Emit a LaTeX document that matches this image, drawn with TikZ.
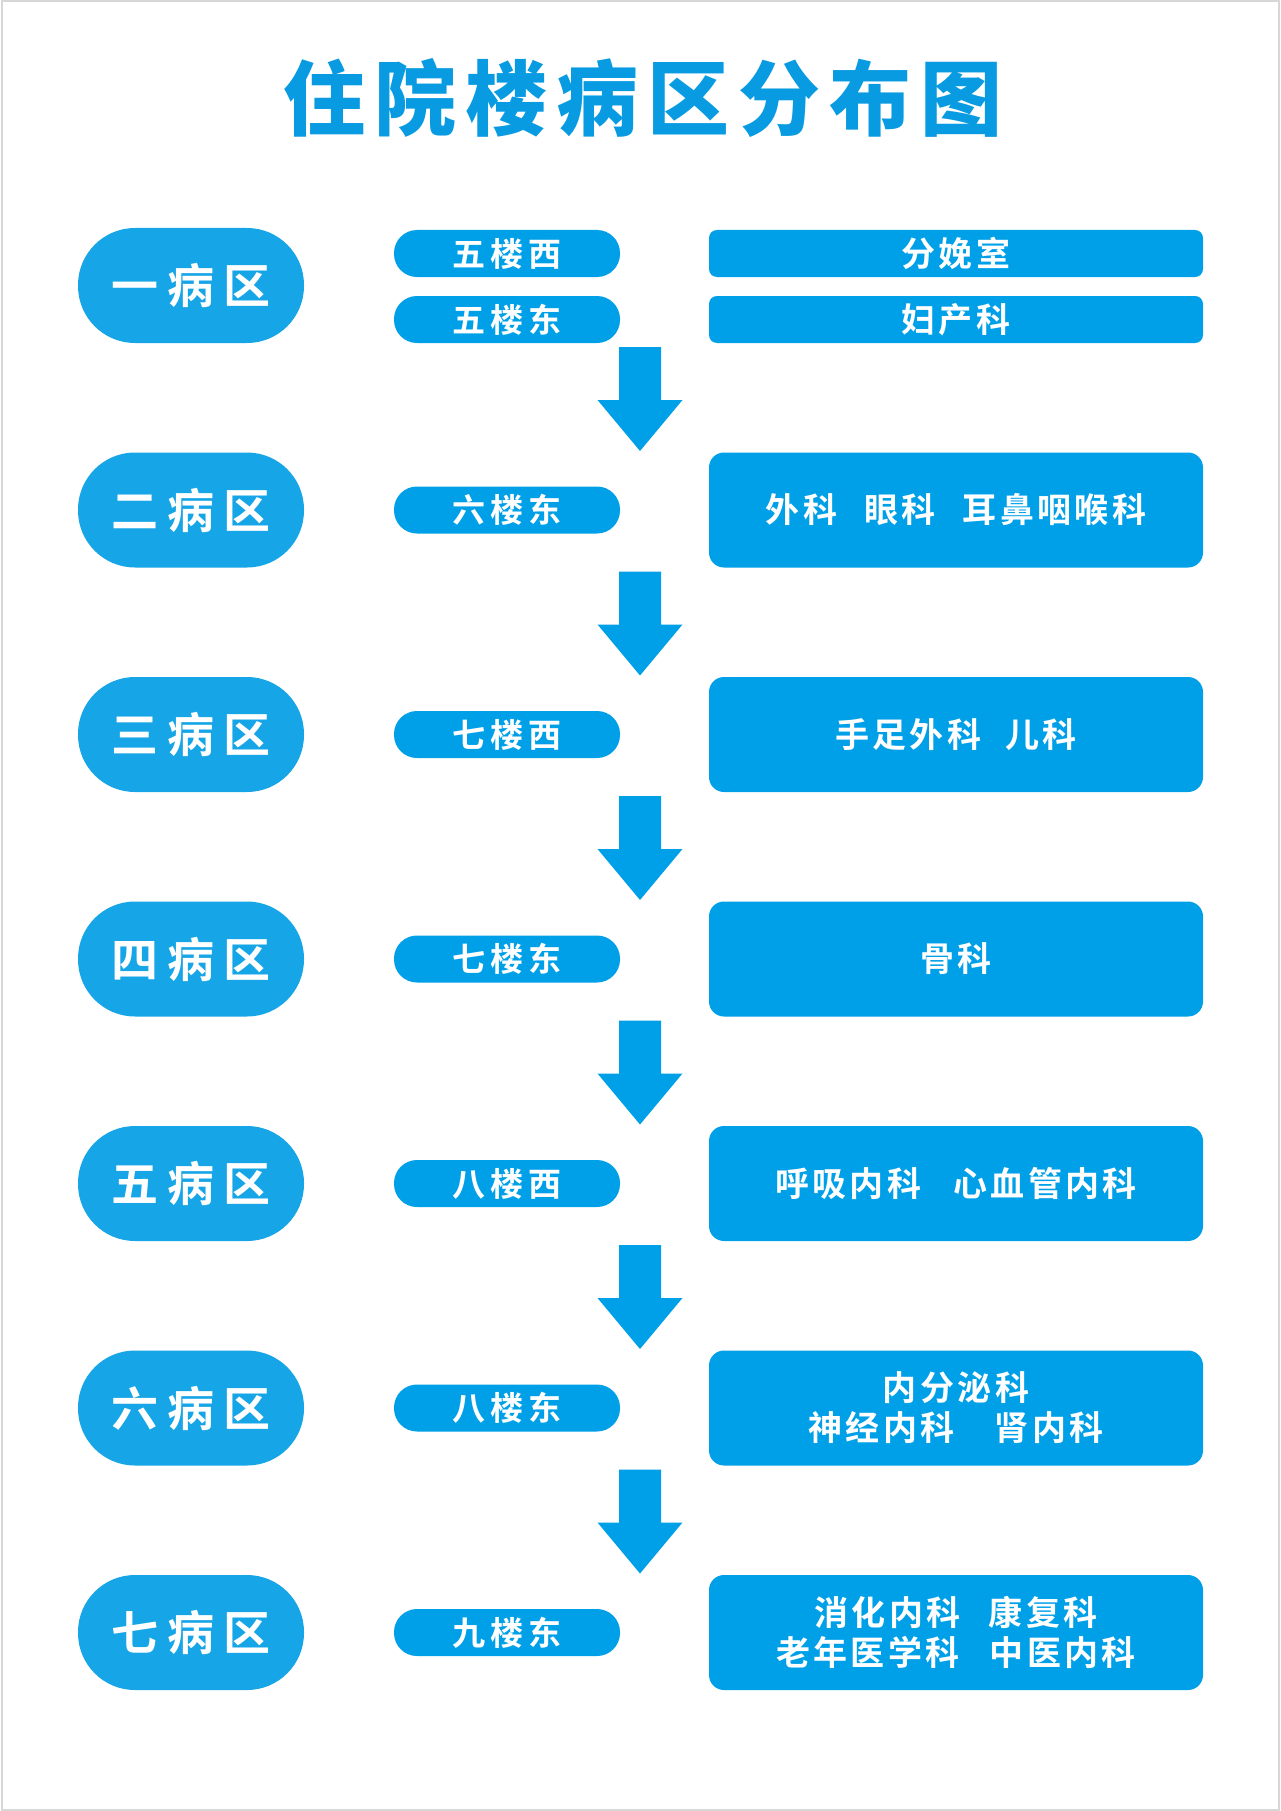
\documentclass[tikz,border=0pt]{standalone}
\usepackage{fontspec}
\usepackage{tikz}
\newfontfamily\cjk{Noto Sans CJK SC Bold}
\newfontfamily\cjkblack{Noto Sans CJK SC Black}
\definecolor{wardblue}{RGB}{22,165,230}
\definecolor{boxblue}{RGB}{0,160,233}
\definecolor{titleblue}{RGB}{8,155,225}
\definecolor{framegray}{RGB}{215,215,215}
\newcommand*{\gap}[1]{\hspace{#1pt}}

\begin{document}
\begin{tikzpicture}[x=1pt, y=-1pt,
  ward/.style={%
    fill=wardblue,
    rectangle,
    rounded corners=57pt,
    minimum width=226pt,
    minimum height=115pt,
    inner sep=0pt,
    text=white,
    font=\cjk\fontsize{47}{50}\selectfont\addfontfeature{LetterSpace=19}
  },
  floor/.style={%
    fill=boxblue,
    rectangle,
    rounded corners=23pt,
    minimum width=226pt,
    minimum height=47pt,
    inner sep=0pt,
    text=white,
    font=\cjk\fontsize{33}{36}\selectfont\addfontfeature{LetterSpace=14}
  },
  dept/.style={%
    fill=boxblue,
    rectangle,
    rounded corners=15pt,
    minimum width=494pt,
    minimum height=115pt,
    inner sep=0pt,
    text=white,
    align=center,
    font=\cjk\fontsize{34}{40}\selectfont\addfontfeature{LetterSpace=10}
  },
  deptthin/.style={dept, rounded corners=8pt, minimum height=47pt},
  wardarrow/.pic={\fill[boxblue] (-21,0) -- (21,0) -- (21,53) -- (42.5,53)
    -- (0,104) -- (-42.5,53) -- (-21,53) -- cycle;}
]

\useasboundingbox (0,0) rectangle (1280,1811);
\fill[white] (0,0) rectangle (1280,1811);
\draw[framegray, line width=2pt] (1.5,1.5) rectangle (1278.5,1809.5);

\node[text=titleblue, font=\cjkblack\fontsize{82}{86}\selectfont\addfontfeature{LetterSpace=11}]
  (title) at (643,98) {住院楼病区分布图};

% ward 1
\node[ward] (ward1) at (191,285.5) {一病区};
\node[floor] (floor1w) at (507,253.5) {五楼西};
\node[floor] (floor1e) at (507,319.5) {五楼东};
\node[deptthin] (dept1w) at (956,253.5) {分娩室};
\node[deptthin] (dept1e) at (956,319.5) {妇产科};
\pic at (640,347) {wardarrow};

% ward 2
\node[ward] (ward2) at (191,510) {二病区};
\node[floor] (floor2) at (507,510) {六楼东};
\node[dept] (dept2) at (956,510) {外科\gap{27}眼科\gap{27}耳鼻咽喉科};
\pic at (640,571.5) {wardarrow};

% ward 3
\node[ward] (ward3) at (191,734.5) {三病区};
\node[floor] (floor3) at (507,734.5) {七楼西};
\node[dept] (dept3) at (956,734.5) {手足外科\gap{24}儿科};
\pic at (640,796) {wardarrow};

% ward 4
\node[ward] (ward4) at (191,959) {四病区};
\node[floor] (floor4) at (507,959) {七楼东};
\node[dept] (dept4) at (956,959) {骨科};
\pic at (640,1020.5) {wardarrow};

% ward 5
\node[ward] (ward5) at (191,1183.5) {五病区};
\node[floor] (floor5) at (507,1183.5) {八楼西};
\node[dept] (dept5) at (956,1183.5) {呼吸内科\gap{32}心血管内科};
\pic at (640,1245) {wardarrow};

% ward 6
\node[ward] (ward6) at (191,1408) {六病区};
\node[floor] (floor6) at (507,1408) {八楼东};
\node[dept] (dept6) at (956,1408) {内分泌科\\神经内科\gap{40}肾内科};
\pic at (640,1469.5) {wardarrow};

% ward 7
\node[ward] (ward7) at (191,1632.5) {七病区};
\node[floor] (floor7) at (507,1632.5) {九楼东};
\node[dept] (dept7) at (956,1632.5) {消化内科\gap{28}康复科\\老年医学科\gap{30}中医内科};

\end{tikzpicture}
\end{document}
